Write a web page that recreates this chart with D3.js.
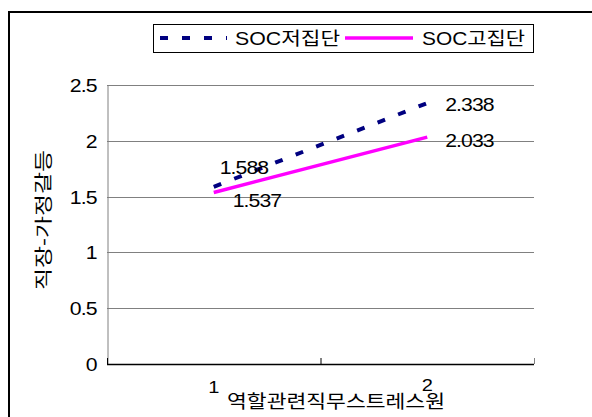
<!DOCTYPE html>
<html>
<head>
<meta charset="utf-8">
<script src="https://cdn.jsdelivr.net/npm/d3@7/dist/d3.min.js"></script>
<style>
  html, body { margin: 0; padding: 0; background: #fff; }
  svg { display: block; }
  text { font-family: "Liberation Sans", "Noto Sans CJK KR", sans-serif; fill: #000; }
</style>
</head>
<body>
<svg id="chart" width="592" height="417"></svg>
<script>
// Stressor level (x categories) and mean conflict per SOC group
const categories = ["1", "2"];
const seriesNames = ["SOC저집단", "SOC고집단"];
const lowSOC = [1.588, 2.338];
const highSOC = [1.537, 2.033];
const yTickValues = [0, 0.5, 1, 1.5, 2, 2.5];
const yTickLabels = ["0", "0.5", "1", "1.5", "2", "2.5"];
const xTitle = "역할관련직무스트레스원";
const yTitle = "직장-가정갈등";

const svg = d3.select("#chart");
const FS = 18;
const SX = 1.18; // wide glyph look of the labels

const plot = { left: 107, right: 534, top: 85, bottom: 364 };
const x = d3.scaleBand().domain(categories).range([plot.left, plot.right]);
const y = d3.scaleLinear().domain([0, 2.5]).range([plot.bottom, plot.top]);
const cx = c => x(c) + x.bandwidth() / 2;

// text placed at (px,py), stretched horizontally
function label(g, px, py, str, anchor, opts = {}) {
  const t = g.append("text")
    .attr("transform", `translate(${px},${py})${opts.rotate ? " rotate(" + opts.rotate + ")" : ""} scale(${opts.sx || SX},1)`)
    .attr("text-anchor", anchor || "start")
    .attr("font-size", opts.fs || FS)
    .text(str);
  if (opts.width) {
    t.attr("transform", `translate(${px},${py})${opts.rotate ? " rotate(" + opts.rotate + ")" : ""}`)
      .attr("textLength", opts.width).attr("lengthAdjust", "spacingAndGlyphs");
  }
  return t;
}

// outer frame (top and left edges)
svg.append("path")
  .attr("d", `M9,417 L9,12 L592,12`)
  .attr("fill", "none").attr("stroke", "#000").attr("stroke-width", 2);

// horizontal gridlines
svg.append("g").selectAll("line").data(yTickValues.filter(v => v > 0)).join("line")
  .attr("x1", plot.left).attr("x2", plot.right)
  .attr("y1", d => Math.round(y(d)) + 0.5).attr("y2", d => Math.round(y(d)) + 0.5)
  .attr("stroke", "#808080").attr("stroke-width", 1);

// y axis
const yAxis = d3.axisLeft(y).tickValues(yTickValues).tickSize(0)
  .tickFormat((d, i) => yTickLabels[i]);
const gy = svg.append("g").attr("transform", `translate(${plot.left + 0.5},0)`).call(yAxis);
gy.select(".domain").attr("stroke", "#808080");
gy.selectAll("text").attr("font-size", FS).attr("x", 0).attr("dy", "0.36em")
  .attr("transform", `translate(-11,0) scale(${SX},1)`)
  .style("font-family", "'Liberation Sans', sans-serif").attr("letter-spacing", -0.8);

// x axis: category boundary ticks point up
svg.append("line").attr("x1", plot.left).attr("x2", plot.right)
  .attr("y1", plot.bottom + 0.5).attr("y2", plot.bottom + 0.5)
  .attr("stroke", "#000").attr("stroke-width", 1.5);
const bounds = [plot.left, plot.left + x.bandwidth(), plot.right];
svg.append("g").selectAll("line").data(bounds).join("line")
  .attr("x1", d => d + 0.5).attr("x2", d => d + 0.5)
  .attr("y1", plot.bottom).attr("y2", plot.bottom - 6)
  .attr("stroke", (d, i) => i === 2 ? "#808080" : "#000");

const gx = svg.append("g");
categories.forEach((c, i) => label(gx, cx(c), i === 0 ? 393 : 391, c, "middle", { fs: FS - 1 }));

label(svg, 336, 408, xTitle, "middle", { width: 218 });
label(svg, 50, 220, yTitle, "middle", { rotate: -90, width: 140 });

// series lines
const line = d3.line().x((d, i) => cx(categories[i])).y(d => y(d));
svg.append("path").datum(highSOC).attr("d", line)
  .attr("fill", "none").attr("stroke", "#FF00FF").attr("stroke-width", 3.5);
svg.append("path").datum(lowSOC).attr("d", line)
  .attr("fill", "none").attr("stroke", "#000080").attr("stroke-width", 4)
  .attr("stroke-dasharray", "8,14");

// value labels
const labelOffsets = {
  low: [[6, -13], [18, 8]],
  high: [[19, 15], [18, 10]]
};
const gl = svg.append("g");
const addLabels = (vals, offs) => {
  vals.forEach((v, i) => {
    label(gl, cx(categories[i]) + offs[i][0], y(v) + offs[i][1], d3.format(".3f")(v), "start")
      .attr("letter-spacing", -0.8);
  });
};
addLabels(lowSOC, labelOffsets.low);
addLabels(highSOC, labelOffsets.high);

// legend
const lg = svg.append("g");
lg.append("rect").attr("x", 153.5).attr("y", 24.5).attr("width", 380).attr("height", 28)
  .attr("fill", "#fff").attr("stroke", "#000").attr("stroke-width", 1);
lg.append("line").attr("x1", 160).attr("x2", 227).attr("y1", 38).attr("y2", 38)
  .attr("stroke", "#000080").attr("stroke-width", 4).attr("stroke-dasharray", "8,14");
label(lg, 235, 45, seriesNames[0], "start", { width: 105 });
lg.append("line").attr("x1", 345).attr("x2", 413).attr("y1", 38).attr("y2", 38)
  .attr("stroke", "#FF00FF").attr("stroke-width", 3.5);
label(lg, 422, 45, seriesNames[1], "start", { width: 103 });
</script>
</body>
</html>
